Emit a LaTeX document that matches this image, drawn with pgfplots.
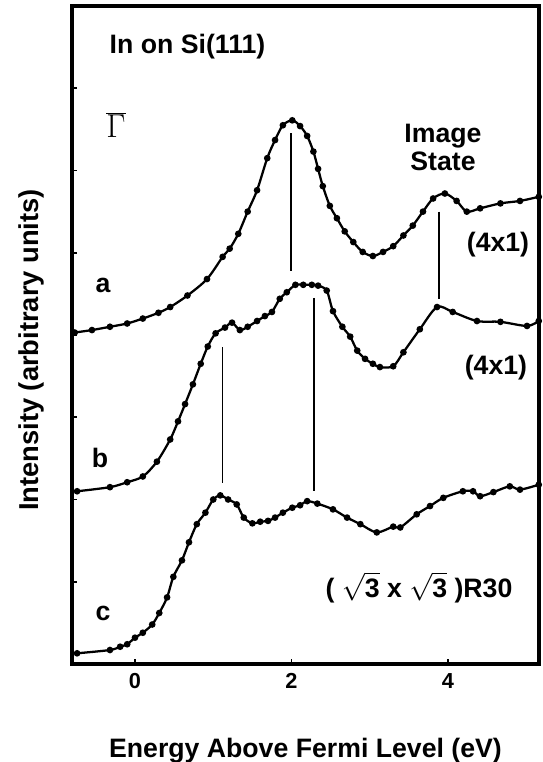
\documentclass[border=0pt]{standalone}
\usepackage{pgfplots}
\pgfplotsset{compat=1.18}
\usepackage{fontspec}
\setmainfont{Liberation Sans}
\begin{document}
\begin{tikzpicture}
\useasboundingbox (-54pt,-73.5pt) rectangle (352.5pt,498pt);
\begin{axis}[
  scale only axis, width=350.25pt, height=493.5pt,
  at={(0,0)}, anchor=south west,
  xmin=-0.805, xmax=5.163, ymin=0, ymax=8,
  axis line style={line width=3pt},
  xtick={0,2,4}, ytick={1,...,7}, yticklabels={},
  tick align=inside, xtick pos=bottom, ytick pos=left,
  major tick length=4pt, tick style={line width=1.2pt, black},
  /pgf/number format/assume math mode=true,
  xticklabel style={font=\bfseries\fontsize{16.3}{18}\selectfont, anchor=center, yshift=-12.5pt},
  clip=false,
]
% curve a
\addplot[black, line width=1.7pt, mark=*, mark size=1.6pt, smooth] coordinates {
(-0.77,4.03) (-0.55,4.06) (-0.32,4.10) (-0.10,4.14) (0.10,4.20) (0.30,4.27)
(0.45,4.34) (0.67,4.48) (0.92,4.68) (1.12,4.95) (1.21,5.05) (1.32,5.23)
(1.44,5.50) (1.56,5.76) (1.69,6.15) (1.79,6.37) (1.89,6.55) (2.01,6.61)
(2.11,6.54) (2.20,6.42) (2.28,6.23) (2.34,6.02) (2.40,5.81) (2.49,5.57)
(2.58,5.42) (2.68,5.26) (2.79,5.13) (2.91,5.01) (3.04,4.96) (3.17,5.01)
(3.30,5.08) (3.43,5.21) (3.55,5.33) (3.68,5.50) (3.81,5.66) (3.96,5.72)
(4.11,5.63) (4.24,5.50) (4.41,5.54) (4.67,5.60) (4.92,5.63) (5.16,5.68)};
% curve b
\addplot[black, line width=1.7pt, mark=*, mark size=1.6pt, smooth] coordinates {
(-0.74,2.10) (-0.32,2.15) (-0.10,2.21) (0.10,2.28) (0.28,2.46) (0.45,2.73)
(0.55,2.95) (0.64,3.16) (0.74,3.40) (0.84,3.65) (0.93,3.86) (1.03,4.02)
(1.15,4.09) (1.24,4.15) (1.34,4.06) (1.44,4.10) (1.56,4.17) (1.66,4.23)
(1.75,4.28) (1.85,4.44) (1.94,4.52) (2.05,4.61) (2.15,4.61) (2.26,4.61)
(2.34,4.60) (2.45,4.54) (2.53,4.29) (2.65,4.10) (2.75,3.98) (2.84,3.81)
(2.94,3.71) (3.04,3.65) (3.13,3.61) (3.30,3.62) (3.43,3.79) (3.64,4.07)
(3.86,4.34) (4.06,4.28) (4.37,4.17) (4.67,4.16) (5.01,4.11) (5.16,4.17)};
% curve c
\addplot[black, line width=1.7pt, mark=*, mark size=1.6pt, smooth] coordinates {
(-0.74,0.13) (-0.32,0.17) (-0.19,0.21) (-0.10,0.24) (0.00,0.32) (0.10,0.38)
(0.22,0.48) (0.31,0.62) (0.41,0.81) (0.49,1.06) (0.60,1.26) (0.69,1.48)
(0.79,1.70) (0.90,1.84) (1.00,2.00) (1.09,2.05) (1.19,2.00) (1.30,1.94)
(1.39,1.78) (1.50,1.71) (1.60,1.73) (1.70,1.74) (1.79,1.78) (1.89,1.84)
(2.01,1.90) (2.11,1.93) (2.20,1.98) (2.33,1.95) (2.53,1.88) (2.71,1.78)
(2.88,1.70) (3.09,1.60) (3.30,1.67) (3.39,1.66) (3.60,1.82) (3.77,1.92)
(3.94,2.02) (4.19,2.10) (4.32,2.10) (4.41,2.04) (4.58,2.09) (4.79,2.16)
(4.92,2.12) (5.16,2.18)};
% peak markers
\addplot[black, line width=1.2pt] coordinates {(1.99,6.45) (1.99,4.78)};
\addplot[black, line width=1.2pt] coordinates {(3.885,5.50) (3.885,4.44)};
\addplot[black, line width=1.2pt] coordinates {(1.116,3.85) (1.116,2.195)};
\addplot[black, line width=1.2pt] coordinates {(2.288,4.45) (2.288,2.10)};
% annotations
\node[font=\bfseries\fontsize{20}{22}\selectfont, anchor=west] at (axis cs:-0.383,7.51) {In on Si(111)};
\node[font=\fontsize{24}{26}\selectfont] at (axis cs:-0.243,6.55) {$\overline{\Gamma}$};
\node[font=\bfseries\fontsize{20}{21}\selectfont, align=center] at (axis cs:3.936,6.28) {Image\\State};
\node[font=\bfseries\fontsize{20}{22}\selectfont] at (axis cs:-0.409,4.60) {a};
\node[font=\bfseries\fontsize{20}{22}\selectfont] at (axis cs:-0.447,2.51) {b};
\node[font=\bfseries\fontsize{20}{22}\selectfont] at (axis cs:-0.409,0.62) {c};
\node[font=\bfseries\fontsize{20}{22}\selectfont] at (axis cs:4.639,5.10) {(4x1)};
\node[font=\bfseries\fontsize{20}{22}\selectfont] at (axis cs:4.613,3.60) {(4x1)};
\node[font=\bfseries\fontsize{20}{22}\selectfont] at (axis cs:3.629,0.93) {( $\sqrt{\mbox{3}}$ x $\sqrt{\mbox{3}}$ )R30};
\end{axis}
\node[font=\bfseries\fontsize{20}{22}\selectfont] at (175.1pt,-65pt) {Energy Above Fermi Level (eV)};
\node[font=\bfseries\fontsize{20.5}{22}\selectfont, rotate=90] at (-30.75pt,235.5pt) {Intensity (arbitrary units)};
\end{tikzpicture}
\end{document}
